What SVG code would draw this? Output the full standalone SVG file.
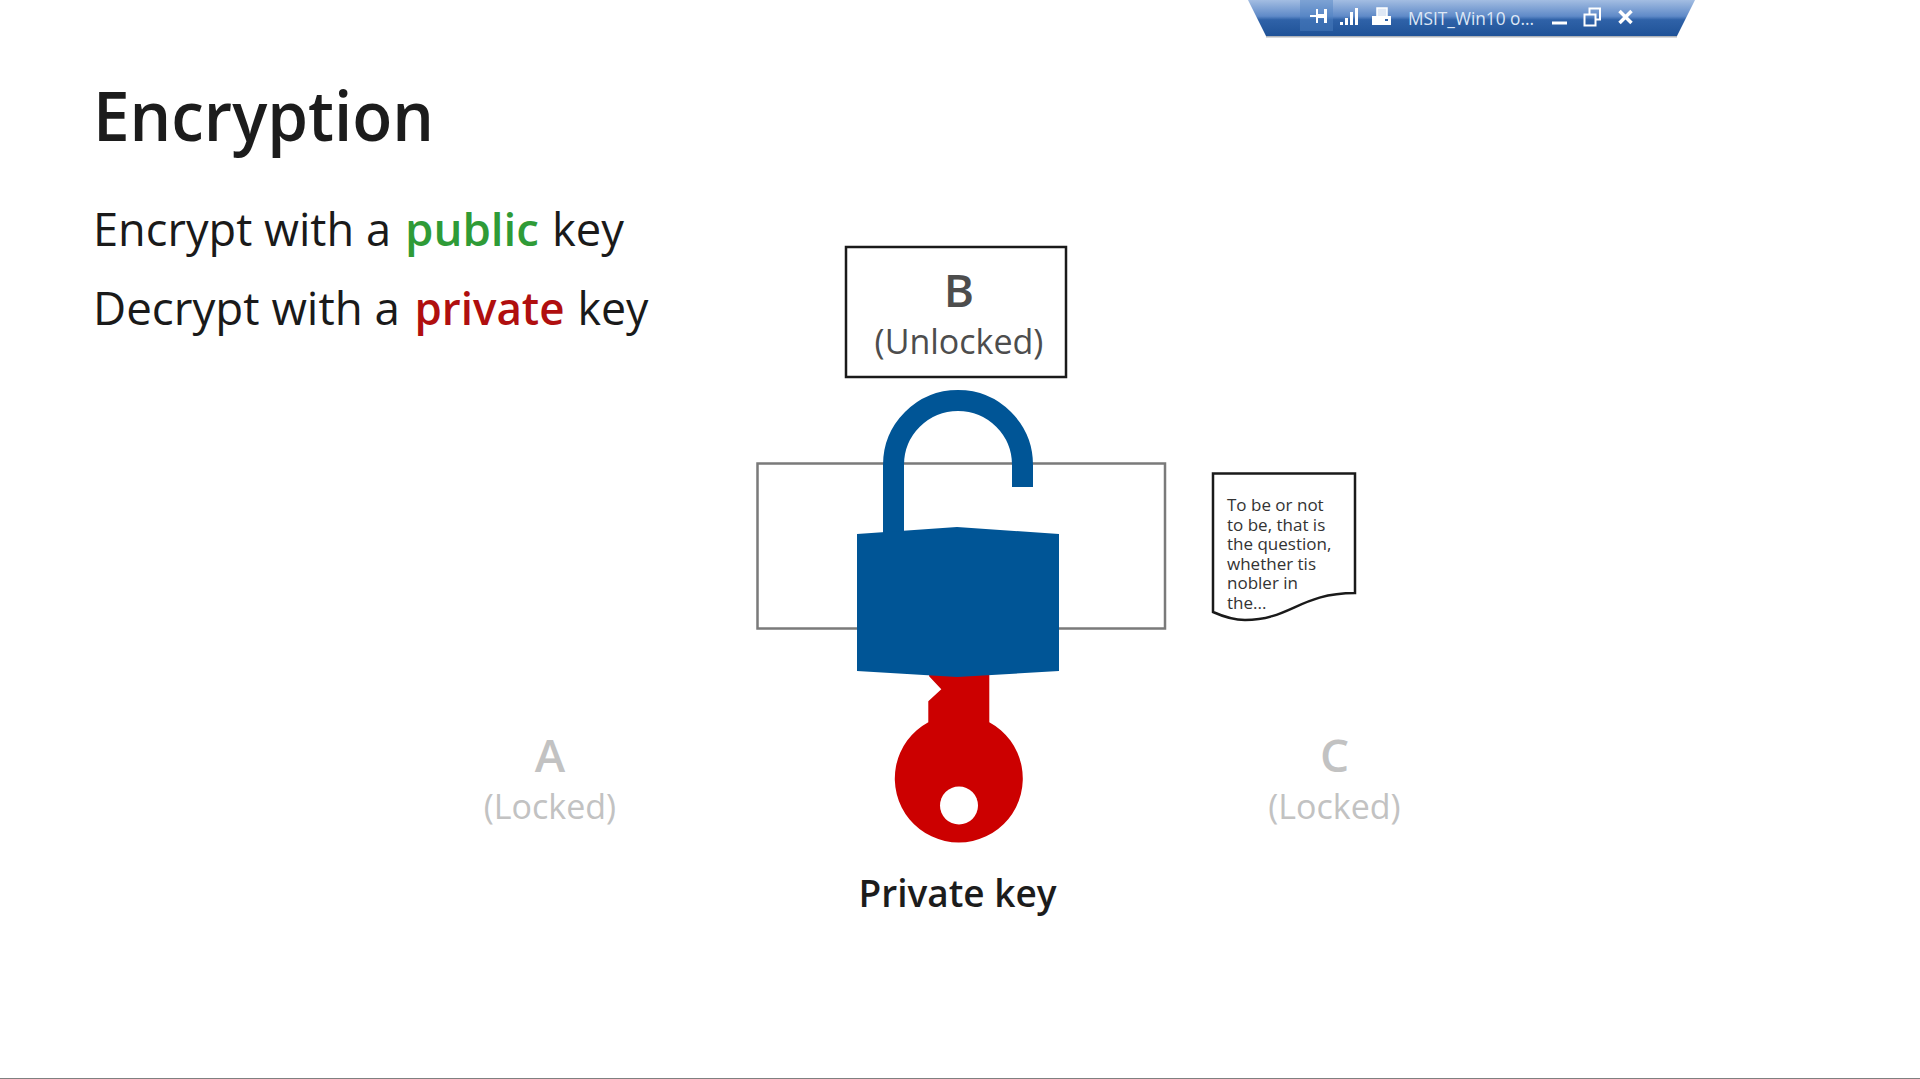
<svg xmlns="http://www.w3.org/2000/svg" width="1920" height="1079" viewBox="0 0 1920 1079">
  <defs>
    <linearGradient id="bar" x1="0" y1="0" x2="0" y2="1">
      <stop offset="0" stop-color="#a3bde2"/>
      <stop offset="0.45" stop-color="#5f8ac8"/>
      <stop offset="0.55" stop-color="#2f62a8"/>
      <stop offset="1" stop-color="#1f5297"/>
    </linearGradient>
  </defs>
  <style>
    text { font-family: "Open Sans", "Noto Sans", "Liberation Sans", sans-serif; }
    .body { font-size: 46px; fill: #1a1a1a; }
    .key { font-weight: 600; }
    .big { font-size: 46px; font-weight: 600; text-anchor: middle; }
    .sub { font-size: 34px; text-anchor: middle; }
    .dim { fill: #c2c2c2; }
    .doc { font-size: 17px; fill: #333333; }
    .ico { fill: #ffffff; }
  </style>
  <rect width="1920" height="1079" fill="#ffffff"/>
  <rect x="0" y="1078" width="1920" height="1" fill="#808080"/>

  <g id="toolbar">
    <polygon points="1248,0 1695,0 1677,36 1266,36" fill="url(#bar)"/>
    <rect x="1266" y="36" width="411" height="1.500" fill="#b0b4ba"/>
    <rect x="1300" y="0" width="33" height="31" fill="#4f82c4" opacity="0.45"/>
    <path class="ico" d="M1310 15h6v-6h2v14h-2v-6h-6zM1324 9h3v14h-3v-5h-6v-4h6z"/>
    <path class="ico" d="M1340 22h3v3h-3zM1345 18h3v7h-3zM1350 12h3v13h-3zM1355 8h3v17h-3z"/>
    <path d="M1377 16V8h10v8" fill="#dfe8f5" stroke="#ffffff" stroke-width="1.500"/>
    <rect class="ico" x="1372" y="16" width="19" height="9"/>
    <rect x="1385" y="19" width="3" height="2" fill="#2f62a8"/>
    <text x="1408" y="24.500" font-size="17.300" fill="#dde7f5">MSIT_Win10 o...</text>
    <rect class="ico" x="1552" y="21.500" width="15" height="3"/>
    <path d="M1584.500 14.500h11v11h-11zM1589.500 14v-5.500h10.500v11h-4" fill="none" stroke="#ffffff" stroke-width="2"/>
    <path d="M1619.500 11l12 12M1631.500 11l-12 12" fill="none" stroke="#ffffff" stroke-width="3.500"/>
  </g>

  <g id="title">
    <text x="93" y="141" font-size="68" font-weight="600" fill="#1c1c1c" textLength="341" lengthAdjust="spacingAndGlyphs">Encryption</text>
  </g>
  <g id="line1">
    <text class="body" x="93" y="246" textLength="298" lengthAdjust="spacingAndGlyphs">Encrypt with a</text>
    <text class="body key" x="405" y="246" style="fill:#2f9b37" textLength="134" lengthAdjust="spacingAndGlyphs">public</text>
    <text class="body" x="552" y="246" textLength="72" lengthAdjust="spacingAndGlyphs">key</text>
  </g>
  <g id="line2">
    <text class="body" x="93" y="325" textLength="307" lengthAdjust="spacingAndGlyphs">Decrypt with a</text>
    <text class="body key" x="414.500" y="325" style="fill:#b00f0f" textLength="150" lengthAdjust="spacingAndGlyphs">private</text>
    <text class="body" x="577.500" y="325" textLength="71" lengthAdjust="spacingAndGlyphs">key</text>
  </g>

  <g id="connectors"></g>

  <g id="node-b">
    <rect x="846" y="247" width="220" height="130" fill="#ffffff" stroke="#1a1a1a" stroke-width="2.500"/>
    <text class="big" x="959" y="306.500" fill="#4d4d4d">B</text>
    <text class="sub" x="959" y="354" fill="#4d4d4d">(Unlocked)</text>
  </g>
  <g id="message">
    <rect x="757.500" y="463.500" width="407.500" height="165" fill="#ffffff" stroke="#7a7a7a" stroke-width="2.500"/>
  </g>
  <g id="padlock" fill="#005596">
    <path d="M893.500 540V465A64.500 64.500 0 0 1 1022.500 465V487" fill="none" stroke="#005596" stroke-width="21"/>
    <path id="key" d="M929 670L928.800 677L941 690L928 702V723A64 64 0 1 0 989 723V670Z" fill="#cc0000" transform="translate(0.300 -0.800)"/>
    <path d="M857 534L957 527L1059 534V671L957 677L857 671Z"/>
  </g>
  <g id="key-hole">
    <circle cx="959" cy="805.500" r="19" fill="#ffffff"/>
    <text x="957.500" y="907" font-size="37" font-weight="600" fill="#1c1c1c" text-anchor="middle">Private key</text>
  </g>
  <g id="document">
    <path d="M1213 473.500H1355V593C1300 593 1290 620 1245 620C1232 620 1222 616 1213 612Z" fill="#ffffff" stroke="#1a1a1a" stroke-width="2.500"/>
    <text class="doc"><tspan x="1227" y="511">To be or not</tspan><tspan x="1227" y="530.500">to be, that is</tspan><tspan x="1227" y="550">the question,</tspan><tspan x="1227" y="570">whether tis</tspan><tspan x="1227" y="589">nobler in</tspan><tspan x="1227" y="609">the...</tspan></text>
  </g>
  <g id="node-a">
    <text class="big dim" x="550" y="772">A</text>
    <text class="sub dim" x="550" y="819">(Locked)</text>
  </g>
  <g id="node-c">
    <text class="big dim" x="1334.500" y="772">C</text>
    <text class="sub dim" x="1334.500" y="819">(Locked)</text>
  </g>
</svg>
